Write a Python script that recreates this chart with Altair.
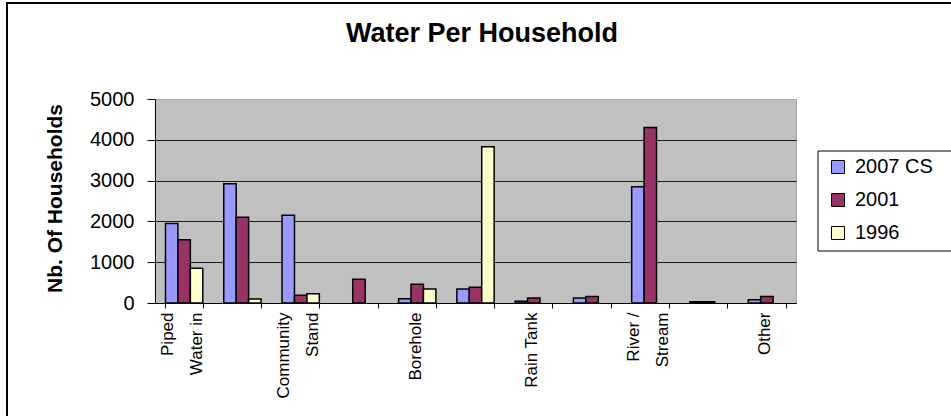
import altair as alt
import pandas as pd

# Main source of drinking water, number of households per survey
categories = [
    "Piped water inside dwelling",
    "Piped water inside yard",
    "Community stand < 200m",
    "Community stand > 200m",
    "Borehole",
    "Spring",
    "Rain-water tank",
    "Dam / pool",
    "River / stream",
    "Water vendor",
    "Other",
]
# Axis text for each category, one entry per printed line ([] leaves the slot blank)
axis_labels = [
    ["Piped", "Water in"], [], ["Community", "Stand"], [], ["Borehole"], [],
    ["Rain Tank"], [], ["River /", "Stream"], [], ["Other"],
]
series = ["2007 CS", "2001", "1996"]
cs_2007 = [1950, 2920, 2150, 0, 105, 343, 40, 120, 2850, 30, 80]
census_2001 = [1550, 2100, 188, 580, 457, 384, 120, 160, 4300, 30, 160]
census_1996 = [850, 100, 229, 0, 343, 3830, 0, 0, 0, 0, 0]
colors = ["#9999FF", "#993366", "#FFFFCC"]

rows = []
for name, vals in zip(series, [cs_2007, census_2001, census_1996]):
    for cat, v in zip(categories, vals):
        rows.append({"category": cat, "series": name, "households": v})
df = pd.DataFrame(rows)

FONT = "Liberation Sans"
W, H = 641, 204
PAD = {"left": 155, "top": 99, "right": 155, "bottom": 113}


def js_list(items):
    return "[" + ", ".join("'" + s + "'" for s in items) + "]"


cat_list = js_list(categories)
lab_list = "[" + ", ".join(js_list(l) if l else "['']" for l in axis_labels) + "]"
label_expr = (
    f"indexof({cat_list}, datum.value) < 0 ? '' : "
    f"{lab_list}[indexof({cat_list}, datum.value)]"
)
# Two-line labels are shifted so that the pair straddles the band centre
two_line = js_list([c for c, l in zip(categories, axis_labels) if len(l) == 2])
two_line_test = f"indexof({two_line}, datum.value) >= 0"

bars = (
    alt.Chart(df)
    .transform_filter("datum.households > 0")
    .mark_bar(stroke="black", strokeWidth=1.5)
    .encode(
        x=alt.X(
            "category:N",
            sort=categories,
            scale=alt.Scale(domain=categories, paddingInner=0.36, paddingOuter=0.18),
            axis=alt.Axis(
                title=None,
                labelExpr=label_expr,
                labelAngle=270,
                labelAlign="right",
                labelBaseline="middle",
                labelFontSize=17,
                labelLineHeight=29,
                labelOffset=alt.condition(two_line_test, alt.value(-17), alt.value(-2)),
                labelPadding=4,
                labelColor="black",
                labelFont=FONT,
                labelOverlap=False,
                tickBand="extent",
                tickSize=5,
                tickColor="black",
                domainColor="black",
                grid=False,
            ),
        ),
        xOffset=alt.XOffset(
            "series:N",
            sort=series,
            scale=alt.Scale(domain=series, paddingInner=0, paddingOuter=0),
        ),
        y=alt.Y(
            "households:Q",
            scale=alt.Scale(domain=[0, 5000], nice=False),
            axis=alt.Axis(
                title="Nb. Of Households",
                titleFont=FONT,
                titleFontSize=21,
                titleFontWeight="bold",
                titleColor="black",
                titleAngle=270,
                titleX=-100,
                titleY=99,
                titleAlign="center",
                titleBaseline="middle",
                values=[0, 1000, 2000, 3000, 4000, 5000],
                format="d",
                labelFontSize=20,
                labelFont=FONT,
                labelColor="black",
                labelPadding=13,
                tickSize=8,
                tickColor="black",
                domainColor="black",
                grid=True,
                gridColor=alt.condition(
                    "datum.value == 5000", alt.value("#A6A6A6"), alt.value("#1a1a1a")
                ),
                gridWidth=1,
            ),
        ),
        color=alt.Color(
            "series:N",
            sort=series,
            scale=alt.Scale(domain=series, range=colors),
            legend=alt.Legend(
                title=None,
                orient="none",
                legendX=673,
                legendY=58,
                symbolType="square",
                symbolSize=169,
                symbolStrokeColor="black",
                symbolStrokeWidth=1,
                labelFont=FONT,
                labelFontSize=20,
                labelColor="black",
                labelOffset=7,
                rowPadding=13,
                padding=0,
            ),
        ),
    )
)

one = alt.Data(values=[{"k": 1}])

# Outer chart frame
frame = (
    alt.Chart(one)
    .mark_rect(fill="white", fillOpacity=0, stroke="black", strokeWidth=2)
    .encode(
        x=alt.value(-148), x2=alt.value(W + PAD["right"] + 10),
        y=alt.value(-96), y2=alt.value(H + PAD["bottom"] + 10),
    )
)

# Box around the legend
legend_box = (
    alt.Chart(one)
    .mark_rect(fill="white", stroke="black", strokeWidth=1)
    .encode(
        x=alt.value(663), x2=alt.value(W + PAD["right"] + 10),
        y=alt.value(52), y2=alt.value(152),
    )
)

title = (
    alt.Chart(one)
    .mark_text(font=FONT, fontSize=27, fontWeight="bold", color="black",
               align="center", baseline="alphabetic")
    .encode(x=alt.value(327), y=alt.value(-57), text=alt.value("Water Per Household"))
)

chart = (
    alt.layer(frame, legend_box, title, bars)
    .properties(
        width=W,
        height=H,
        autosize=alt.AutoSizeParams(type="none"),
        padding=PAD,
        background="white",
    )
    .configure_view(fill="#C0C0C0", stroke="#A6A6A6", strokeWidth=1)
)

chart.save("out.html", embed_options={"renderer": "svg", "actions": False})
